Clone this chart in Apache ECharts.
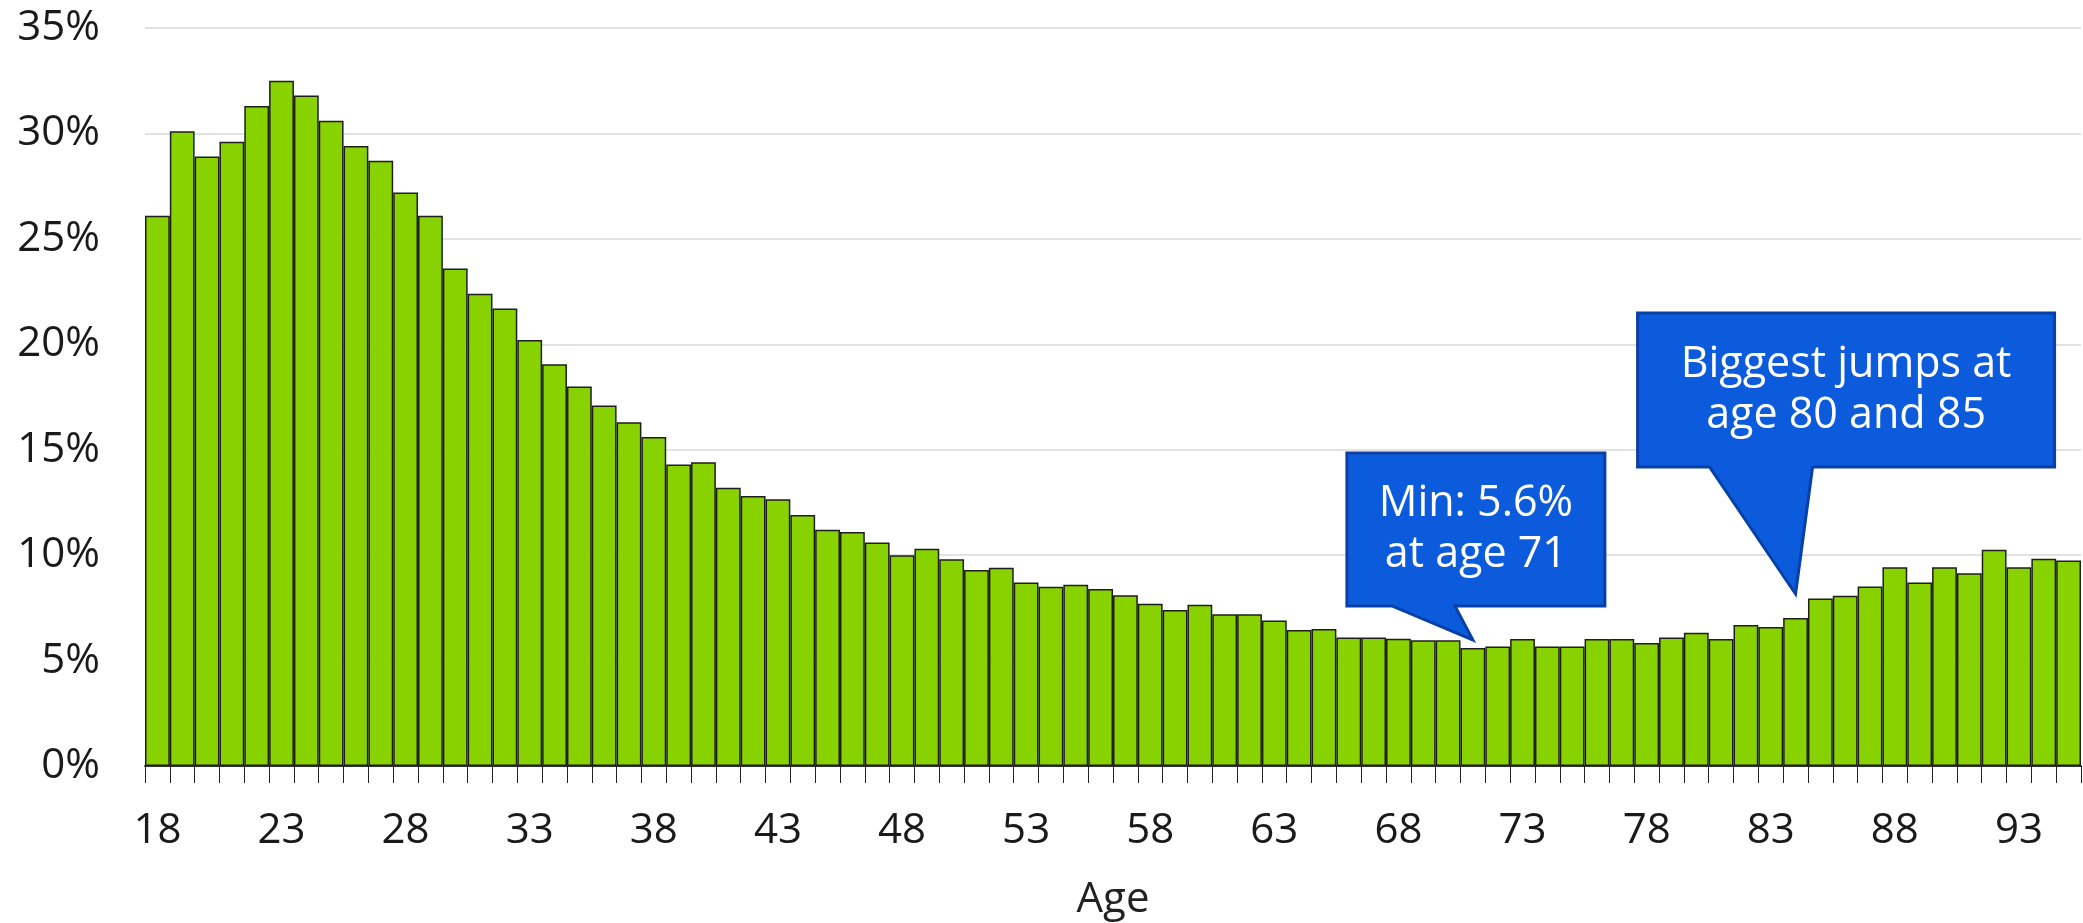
<!DOCTYPE html>
<html>
<head>
<meta charset="utf-8">
<script src="https://cdn.jsdelivr.net/npm/echarts@6/dist/echarts.min.js"></script>
<style>
  html, body { margin: 0; padding: 0; background: #fff; }
  #chart { width: 2083px; height: 923px; }
</style>
</head>
<body>
<div id="chart"></div>
<script>
// Ages 18..95
const ages = [];
for (let a = 18; a <= 95; a++) ages.push(String(a));

// Share per age, in percent
const shares = [
  26.1, 30.1, 28.9, 29.6, 31.3, 32.5, 31.8, 30.6, 29.4, 28.7,
  27.2, 26.1, 23.6, 22.4, 21.7, 20.2, 19.05, 18.0, 17.1, 16.3,
  15.6, 14.3, 14.4, 13.2, 12.8, 12.65, 11.9, 11.2, 11.1, 10.6,
  10.0, 10.3, 9.8, 9.3, 9.4, 8.7, 8.5, 8.6, 8.4, 8.1,
  7.7, 7.4, 7.65, 7.2, 7.2, 6.9, 6.45, 6.5, 6.1, 6.1,
  6.04, 5.96, 5.96, 5.6, 5.67, 6.02, 5.67, 5.67, 6.02, 6.02,
  5.83, 6.1, 6.32, 6.02, 6.69, 6.59, 7.02, 7.94, 8.08, 8.51,
  9.42, 8.7, 9.42, 9.14, 10.26, 9.42, 9.83, 9.75
];

const yTicks = [0, 5, 10, 15, 20, 25, 30, 35];

// Callout notes: anchored on a bar (age, value); box given relative to the pointer tip
const notes = [
  { age: '71', value: 5.6, lift: 8, lines: ['Min: 5.6%', 'at age 71'],
    box: { l: -126, r: 132, t: -187, b: -34, b0: -81, b1: -18 } },
  { age: '84', value: 7.02, lift: 24, lines: ['Biggest jumps at', 'age 80 and 85'],
    box: { l: -158, r: 259, t: -281, b: -127, b0: -86, b1: 17 } }
];

const FONT = '"Open Sans", "Noto Sans", sans-serif';
const chart = echarts.init(document.getElementById('chart'), null, { renderer: 'canvas' });

chart.setOption({
  animation: false,
  backgroundColor: '#ffffff',
  grid: {
    left: 145, right: 2, top: 28, bottom: 157,
    containLabel: false, outerBoundsMode: 'none'
  },
  xAxis: {
    type: 'category',
    data: ages,
    boundaryGap: true,
    name: 'Age',
    nameLocation: 'middle',
    nameGap: 113,
    nameTextStyle: { fontFamily: FONT, fontSize: 42, color: '#222' },
    axisLine: { lineStyle: { color: '#333', width: 2 } },
    axisTick: { show: true, interval: 0, length: 17, lineStyle: { color: '#222', width: 1 } },
    axisLabel: {
      interval: 4, margin: 44,
      fontFamily: FONT, fontSize: 42, color: '#1a1a1a'
    }
  },
  yAxis: {
    type: 'value',
    min: yTicks[0],
    max: yTicks[yTicks.length - 1],
    interval: 5,
    axisLine: { show: false },
    axisTick: { show: false },
    splitLine: { lineStyle: { color: '#e2e2e2', width: 2 } },
    axisLabel: {
      formatter: '{value}%', margin: 45,
      fontFamily: FONT, fontSize: 42, color: '#1a1a1a'
    }
  },
  series: [{
    type: 'bar',
    data: shares,
    barCategoryGap: 0,
    itemStyle: { color: '#88d200', borderColor: '#1e1e1e', borderWidth: 1.5 }
  }]
});

// Speech-bubble callouts pointing at their bars
function drawNotes() {
  const elements = [];
  notes.forEach((n) => {
    const p = chart.convertToPixel({ seriesIndex: 0 }, [n.age, n.value]);
    const tx = p[0], ty = p[1] - n.lift;
    const b = n.box;
    const pts = [
      [tx + b.l, ty + b.t], [tx + b.r, ty + b.t], [tx + b.r, ty + b.b],
      [tx + b.b1, ty + b.b], [tx, ty], [tx + b.b0, ty + b.b], [tx + b.l, ty + b.b]
    ];
    elements.push({
      type: 'polygon',
      shape: { points: pts },
      style: { fill: '#0c5bdd', stroke: '#0840a6', lineWidth: 3, lineJoin: 'miter' },
      z: 10
    });
    const cx = tx + (b.l + b.r) / 2;
    const cy = ty + (b.t + b.b) / 2;
    elements.push({
      type: 'text',
      x: cx, y: cy,
      style: {
        text: n.lines.join('\n'),
        fill: '#ffffff',
        font: '43px ' + FONT,
        align: 'center',
        verticalAlign: 'middle',
        lineHeight: 51
      },
      z: 11
    });
  });
  chart.setOption({ graphic: elements });
}
drawNotes();
</script>
</body>
</html>
